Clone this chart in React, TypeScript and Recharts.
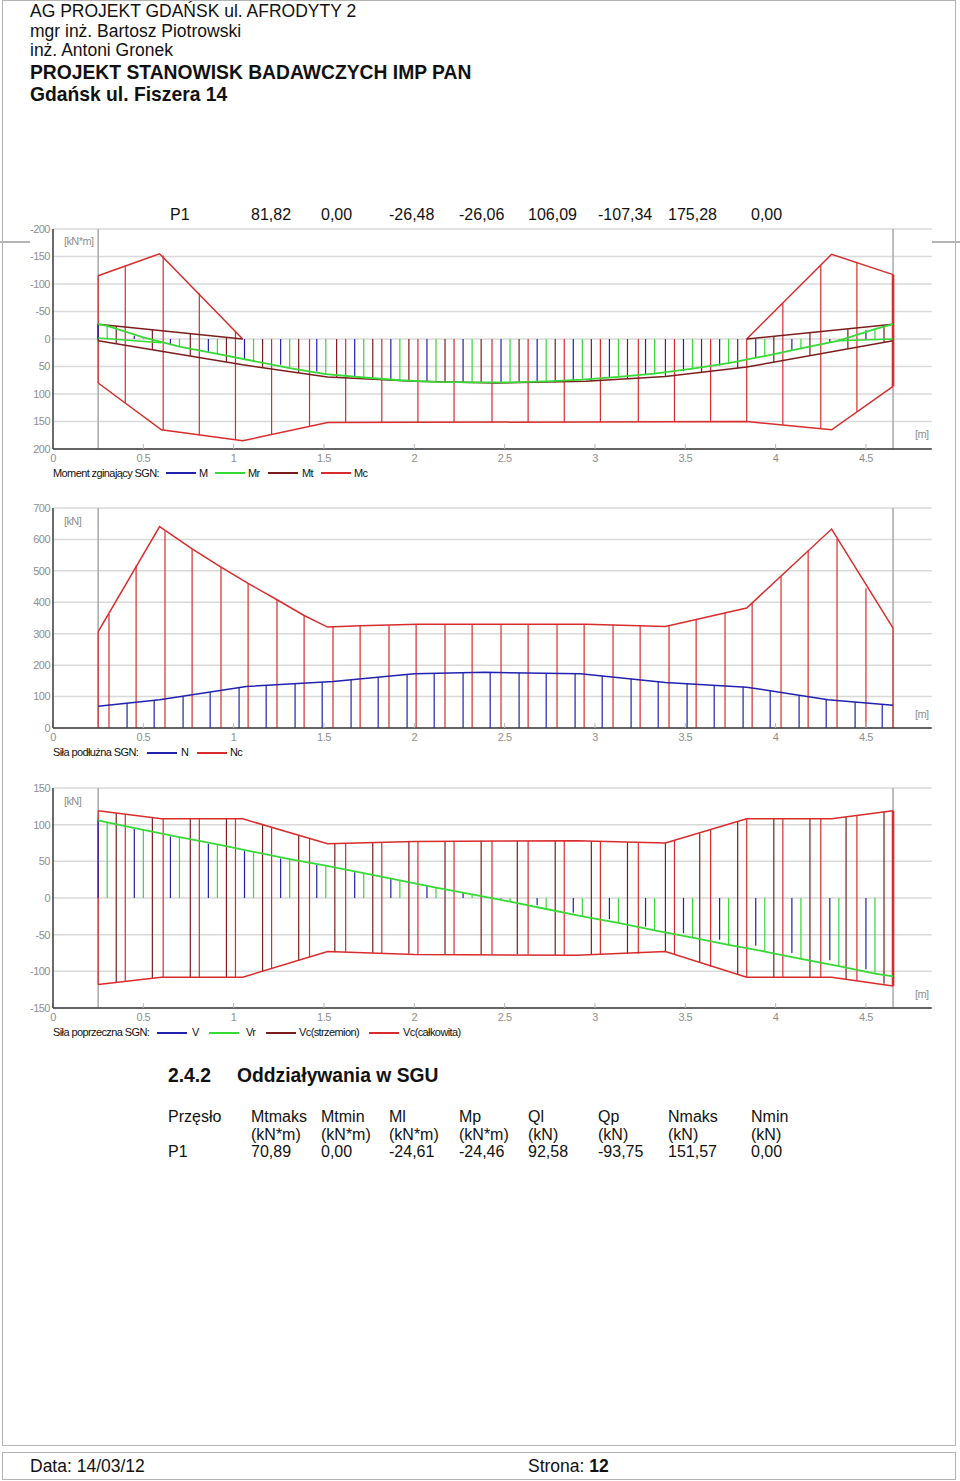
import React from 'react';
import {
  ComposedChart,
  Line,
  XAxis,
  YAxis,
  CartesianGrid,
  ReferenceLine,
} from 'recharts';

type Pt = [number, number];
type Span = [number, number, number];

const BLUE = '#2121b0';
const GREEN = '#36d936';
const BROWN = '#7c1d1d';
const RED = '#d82c2c';
const GRID = '#d9d9d9';
const TICK = '#8e8e8e';
const FONT = '"Liberation Sans", Arial, sans-serif';

const X_MAX = 4.864;
const xTicks = [0, 0.5, 1, 1.5, 2, 2.5, 3, 3.5, 4, 4.5];
const supports = [0.25, 4.65];

// --- header / table text ---
const headerLines = [
  'AG PROJEKT GDAŃSK ul. AFRODYTY 2',
  'mgr inż. Bartosz Piotrowski',
  'inż. Antoni Gronek',
];
const headerBold = ['PROJEKT STANOWISK BADAWCZYCH IMP PAN', 'Gdańsk ul. Fiszera 14'];
const columns = [168, 251, 321, 389, 459, 528, 598, 668, 751];
const sgnRow = ['P1', '81,82', '0,00', '-26,48', '-26,06', '106,09', '-107,34', '175,28', '0,00'];
const sguHead = ['Przęsło', 'Mtmaks', 'Mtmin', 'Ml', 'Mp', 'Ql', 'Qp', 'Nmaks', 'Nmin'];
const sguUnits = ['', '(kN*m)', '(kN*m)', '(kN*m)', '(kN*m)', '(kN)', '(kN)', '(kN)', '(kN)'];
const sguRow = ['P1', '70,89', '0,00', '-24,61', '-24,46', '92,58', '-93,75', '151,57', '0,00'];

// --- moment (kN*m) ---
const momentTicks = [-200, -150, -100, -50, 0, 50, 100, 150, 200];
const mcUpperLeft: Pt[] = [[0.25, -115], [0.59, -155], [1.05, 0]];
const mcUpperRight: Pt[] = [[3.84, 0], [4.31, -154], [4.65, -117]];
const mcLower: Pt[] = [[0.25, 80], [0.6, 165], [1.05, 185], [1.52, 152], [3.84, 150], [4.31, 165], [4.65, 86]];
const mtUpperLeft: Pt[] = [[0.25, -27], [1.05, 0]];
const mtUpperRight: Pt[] = [[3.84, 0], [4.65, -27]];
const mtLower: Pt[] = [[0.25, 3], [1.05, 47], [1.52, 69], [2.0, 77], [2.45, 80], [2.95, 77], [3.39, 68], [3.84, 51], [4.65, 3]];
const mrLowerLeft: Pt[] = [[0.25, -2], [0.6, 7]];
const mrLowerRight: Pt[] = [[4.35, 3], [4.65, 0]];
const mBars: Pt[] = [
  [0.25, -27], [0.45, -6], [0.65, 10], [0.86, 25], [1.06, 37], [1.26, 47], [1.46, 59], [1.67, 68],
  [1.87, 74], [2.07, 77], [2.27, 79], [2.48, 79], [2.68, 78], [2.88, 76], [3.08, 71], [3.28, 65],
  [3.49, 58], [3.69, 48], [3.89, 35], [4.09, 20], [4.3, 7], [4.5, -16],
];
const mrBars: Pt[] = [
  [0.3, -24], [0.5, -3], [0.7, 14], [0.91, 27], [1.11, 40], [1.31, 53], [1.51, 64], [1.72, 70],
  [1.92, 75], [2.12, 78], [2.32, 79], [2.53, 79], [2.73, 77], [2.93, 74], [3.13, 69], [3.33, 63],
  [3.54, 54], [3.74, 44], [3.94, 31], [4.14, 17], [4.35, 3], [4.55, -18],
];
const mrLine: Pt[] = [[0.25, -27], ...mrBars, [4.65, -27]];
const mtSpans: Span[] = [
  [0.25, -27, 3], [0.35, -24, 9], [0.55, -17, 20], [0.76, -10, 31], [0.96, -3, 42], [1.16, 0, 52],
  [1.36, 0, 61], [1.57, 0, 70], [1.77, 0, 73], [1.97, 0, 76], [2.17, 0, 78], [2.37, 0, 79],
  [2.58, 0, 80], [2.78, 0, 79], [2.98, 0, 76], [3.18, 0, 73], [3.39, 0, 68], [3.59, 0, 61],
  [3.79, 0, 53], [3.99, -5, 43], [4.19, -12, 30], [4.4, -19, 18], [4.6, -25, 6],
];
const mcSpans: Span[] = [
  [0.25, -115, 80], [0.4, -133, 117], [0.61, -152, 166], [0.81, -83, 174], [1.01, -14, 183],
  [1.21, 0, 174], [1.42, 0, 159], [1.62, 0, 152], [1.82, 0, 152], [2.02, 0, 152], [2.22, 0, 152],
  [2.43, 0, 152], [2.63, 0, 151], [2.83, 0, 151], [3.03, 0, 151], [3.24, 0, 151], [3.44, 0, 150],
  [3.64, 0, 150], [3.84, 0, 150], [4.04, -65, 156], [4.25, -134, 163], [4.45, -139, 132],
];
const mcEdge: Span[] = [[4.65, -117, 86]];

// --- axial force (kN) ---
const axialTicks = [0, 100, 200, 300, 400, 500, 600, 700];
const ncLine: Pt[] = [
  [0.25, 307], [0.59, 641], [0.77, 570], [0.93, 512], [1.08, 460], [1.24, 408], [1.39, 358],
  [1.52, 321], [1.7, 325], [2.02, 330], [2.95, 330], [3.39, 323], [3.84, 382], [4.31, 633], [4.65, 318],
];
const ncBars: Pt[] = [
  [0.25, 307], [0.31, 363], [0.46, 517], [0.62, 626], [0.77, 570], [0.93, 512], [1.08, 460],
  [1.24, 408], [1.39, 358], [1.55, 322], [1.7, 325], [1.86, 327], [2.01, 330], [2.17, 330],
  [2.32, 330], [2.48, 330], [2.63, 330], [2.79, 330], [2.94, 330], [3.1, 328], [3.25, 326],
  [3.41, 324], [3.56, 345], [3.72, 366], [3.87, 398], [4.03, 483], [4.18, 564], [4.34, 601],
  [4.5, 445], [4.65, 318],
];
const nLine: Pt[] = [
  [0.25, 69], [0.59, 90], [1.07, 132], [1.55, 148], [2.0, 173], [2.39, 177], [2.92, 173],
  [3.39, 145], [3.84, 130], [4.29, 90], [4.65, 72],
];
const nBars: Pt[] = [
  [0.41, 79], [0.56, 88], [0.72, 101], [0.87, 114], [1.03, 128], [1.18, 136], [1.34, 141],
  [1.49, 146], [1.65, 153], [1.8, 162], [1.96, 171], [2.11, 174], [2.27, 176], [2.42, 177],
  [2.58, 176], [2.73, 175], [2.89, 173], [3.04, 166], [3.2, 157], [3.35, 147], [3.51, 141],
  [3.66, 136], [3.82, 131], [3.97, 118], [4.13, 104], [4.28, 91], [4.44, 83], [4.59, 75],
];

// --- shear force (kN) ---
const shearTicks = [-150, -100, -50, 0, 50, 100, 150];
const vcUpper: Pt[] = [[0.25, 119], [0.6, 108], [1.05, 108], [1.52, 74], [2.0, 77], [2.9, 78], [3.39, 75], [3.84, 108], [4.31, 108], [4.65, 119]];
const vcLower: Pt[] = [[0.25, -118], [0.6, -108], [1.05, -108], [1.52, -73], [2.0, -77], [2.9, -78], [3.39, -73], [3.84, -108], [4.31, -108], [4.65, -120]];
const vcSpans: Span[] = [
  [0.25, -118, 119], [0.4, -114, 114], [0.61, -108, 108], [0.81, -108, 108], [1.01, -108, 108],
  [1.21, -97, 97], [1.42, -81, 81], [1.62, -74, 75], [1.82, -75, 76], [2.02, -77, 77],
  [2.22, -77, 77], [2.43, -77, 78], [2.63, -77, 78], [2.83, -78, 78], [3.03, -77, 77],
  [3.24, -76, 76], [3.44, -77, 79], [3.64, -94, 94], [3.84, -108, 108], [4.04, -108, 108],
  [4.25, -108, 108], [4.45, -113, 113],
];
const vcEdge: Span[] = [[4.65, -120, 119]];
const vsSpans: Span[] = [
  [0.35, -115, 116], [0.55, -110, 110], [0.76, -108, 108], [0.96, -108, 108], [1.16, -101, 101],
  [1.36, -85, 85], [1.56, -74, 74], [1.77, -75, 76], [1.97, -76, 77], [2.17, -77, 77],
  [2.37, -77, 78], [2.57, -77, 78], [2.78, -78, 78], [2.98, -77, 77], [3.18, -76, 76],
  [3.39, -73, 75], [3.58, -88, 88], [3.79, -104, 104], [3.99, -108, 108], [4.19, -108, 108],
  [4.39, -111, 111], [4.6, -117, 118],
];
const vBars: Pt[] = [
  [0.25, 107], [0.45, 94], [0.65, 84], [0.86, 74], [1.06, 64], [1.26, 54], [1.46, 45], [1.67, 35],
  [1.87, 26], [2.07, 16], [2.27, 7], [2.48, -1], [2.68, -10], [2.88, -20], [3.08, -29], [3.28, -39],
  [3.49, -48], [3.69, -57], [3.89, -65], [4.09, -75], [4.3, -85], [4.5, -97],
];
const vrBars: Pt[] = [
  [0.3, 103], [0.5, 93], [0.7, 83], [0.91, 73], [1.11, 63], [1.31, 53], [1.51, 44], [1.72, 34],
  [1.92, 24], [2.12, 14], [2.32, 5], [2.53, -5], [2.73, -15], [2.93, -25], [3.13, -34], [3.33, -44],
  [3.54, -54], [3.74, -64], [3.94, -73], [4.14, -83], [4.35, -93], [4.55, -103],
];
const vrLine: Pt[] = [[0.25, 106], ...vrBars, [4.65, -107]];

interface LineDef { pts: Pt[]; color: string; width?: number }
interface SpanDef { spans: Span[]; color: string; width?: number }

const fromZero = (pts: Pt[]): Span[] => pts.map(([x, v]) => [x, 0, v]);

function Diagram({
  plotTop,
  yTicks,
  reversed,
  spans,
  lines,
}: {
  plotTop: number;
  yTicks: number[];
  reversed?: boolean;
  spans: SpanDef[];
  lines: LineDef[];
}) {
  const tickStyle = { fontSize: 11, fill: TICK, fontFamily: FONT, letterSpacing: -0.5 };
  const axisLine = { stroke: '#3a3a3a', strokeWidth: 1.5 };
  return (
    <div style={{ position: 'absolute', left: 0, top: plotTop - 20 }}>
      <ComposedChart width={960} height={260} margin={{ top: 20, right: 28.3, bottom: 0, left: 0 }}>
        <CartesianGrid vertical={false} stroke={GRID} strokeWidth={1.5} />
        <XAxis
          xAxisId="top"
          orientation="top"
          type="number"
          domain={[0, X_MAX]}
          ticks={xTicks}
          interval={0}
          height={0}
          tick={false}
          tickSize={-5}
          axisLine={axisLine}
          tickLine={{ stroke: '#b8b8b8' }}
          allowDataOverflow
        />
        <XAxis
          type="number"
          dataKey="x"
          domain={[0, X_MAX]}
          ticks={xTicks}
          interval={0}
          height={20}
          tickSize={-5}
          tickMargin={10}
          tick={tickStyle}
          axisLine={axisLine}
          tickLine={{ stroke: '#b8b8b8' }}
          allowDataOverflow
        />
        <YAxis
          type="number"
          domain={[yTicks[0], yTicks[yTicks.length - 1]]}
          ticks={yTicks}
          interval={0}
          reversed={reversed}
          width={53}
          tickSize={0}
          tickMargin={3}
          tick={tickStyle}
          axisLine={axisLine}
          tickLine={false}
          allowDataOverflow
        />
        {supports.map((x) => (
          <ReferenceLine key={`s${x}`} x={x} stroke="#a9a9a9" strokeWidth={1.5} />
        ))}
        {spans.flatMap((s, i) =>
          s.spans.map(([x, lo, hi]) => (
            <ReferenceLine
              key={`v${i}-${x}`}
              segment={[{ x, y: lo }, { x, y: hi }]}
              stroke={s.color}
              strokeWidth={s.width ?? 1.2}
            />
          )),
        )}
        {lines.map((l, i) => (
          <Line
            key={`l${i}`}
            data={l.pts.map(([x, y]) => ({ x, y }))}
            dataKey="y"
            type="linear"
            stroke={l.color}
            strokeWidth={l.width ?? 1.5}
            dot={false}
            activeDot={false}
            isAnimationActive={false}
          />
        ))}
      </ComposedChart>
    </div>
  );
}

function Txt({
  x,
  y,
  size = 16,
  bold,
  color = '#111',
  spacing,
  children,
}: {
  x: number;
  y: number;
  size?: number;
  bold?: boolean;
  color?: string;
  spacing?: number;
  children: React.ReactNode;
}) {
  return (
    <div
      style={{
        position: 'absolute',
        left: x,
        top: y - size * 0.5,
        fontSize: size,
        lineHeight: `${size}px`,
        fontWeight: bold ? 700 : 400,
        color,
        whiteSpace: 'nowrap',
        letterSpacing: spacing,
      }}
    >
      {children}
    </div>
  );
}

function Key({
  y,
  title,
  items,
}: {
  y: number;
  title: string;
  items: { x: number; tx: number; color: string; label: string }[];
}) {
  return (
    <>
      <Txt x={53} y={y} size={11} spacing={-0.6}>{title}</Txt>
      {items.map((it) => (
        <React.Fragment key={it.label}>
          <div style={{ position: 'absolute', left: it.x, top: y - 1, width: 30, height: 2, background: it.color }} />
          <Txt x={it.tx} y={y} size={11} spacing={-0.6}>{it.label}</Txt>
        </React.Fragment>
      ))}
    </>
  );
}

export default function App() {
  return (
    <div
      style={{
        position: 'absolute',
        left: 0,
        top: 0,
        width: 960,
        height: 1481,
        background: '#fff',
        fontFamily: FONT,
        overflow: 'hidden',
      }}
    >
      {/* page frame */}
      <div style={{ position: 'absolute', left: 2, top: 0, width: 954, height: 1446, border: '1.5px solid #b4b4b4', boxSizing: 'border-box' }} />
      <div style={{ position: 'absolute', left: 0, top: 241, width: 30, height: 1.5, background: '#b4b4b4' }} />
      <div style={{ position: 'absolute', left: 932, top: 241, width: 28, height: 1.5, background: '#b4b4b4' }} />
      <div style={{ position: 'absolute', left: 2, top: 1452, width: 954, height: 28, border: '1.5px solid #b4b4b4', boxSizing: 'border-box' }} />

      {headerLines.map((t, i) => (
        <Txt key={t} x={30} y={12 + i * 19.5} size={17.5}>{t}</Txt>
      ))}
      {headerBold.map((t, i) => (
        <Txt key={t} x={30} y={73 + i * 22} size={19.3} bold>{t}</Txt>
      ))}

      {sgnRow.map((t, i) => (
        <Txt key={`r${i}`} x={columns[i] + (i === 0 ? 2 : 0)} y={214.5} size={16}>{t}</Txt>
      ))}

      {/* moment */}
      <Diagram
        plotTop={228.5}
        yTicks={momentTicks}
        reversed
        spans={[
          { spans: mcSpans, color: RED },
          { spans: mcEdge, color: RED, width: 2.6 },
          { spans: mtSpans, color: BROWN },
          { spans: fromZero(mrBars), color: GREEN },
          { spans: fromZero(mBars), color: BLUE },
        ]}
        lines={[
          { pts: mcUpperLeft, color: RED },
          { pts: mcUpperRight, color: RED },
          { pts: mcLower, color: RED },
          { pts: mtUpperLeft, color: BROWN },
          { pts: mtUpperRight, color: BROWN },
          { pts: mtLower, color: BROWN },
          { pts: mrLowerLeft, color: GREEN },
          { pts: mrLowerRight, color: GREEN },
          { pts: mrLine, color: GREEN, width: 1.8 },
        ]}
      />
      <Txt x={64} y={241.5} size={11} color={TICK} spacing={-0.6}>[kN*m]</Txt>
      <Txt x={915} y={434} size={11} color={TICK} spacing={-0.6}>[m]</Txt>
      <Key
        y={473}
        title="Moment zginający SGN:"
        items={[
          { x: 166, tx: 199, color: BLUE, label: 'M' },
          { x: 215, tx: 248, color: GREEN, label: 'Mr' },
          { x: 268, tx: 302, color: BROWN, label: 'Mt' },
          { x: 321, tx: 354, color: RED, label: 'Mc' },
        ]}
      />

      {/* axial force */}
      <Diagram
        plotTop={508.3}
        yTicks={axialTicks}
        spans={[
          { spans: fromZero(ncBars), color: RED },
          { spans: fromZero(nBars), color: BLUE },
        ]}
        lines={[
          { pts: ncLine, color: RED },
          { pts: nLine, color: BLUE },
        ]}
      />
      <Txt x={64} y={521.5} size={11} color={TICK} spacing={-0.6}>[kN]</Txt>
      <Txt x={915} y={714} size={11} color={TICK} spacing={-0.6}>[m]</Txt>
      <Key
        y={752.5}
        title="Siła podłużna SGN:"
        items={[
          { x: 147, tx: 181, color: BLUE, label: 'N' },
          { x: 197, tx: 230, color: RED, label: 'Nc' },
        ]}
      />

      {/* shear force */}
      <Diagram
        plotTop={788.3}
        yTicks={shearTicks}
        spans={[
          { spans: vcSpans, color: RED },
          { spans: vcEdge, color: RED, width: 2.6 },
          { spans: vsSpans, color: BROWN },
          { spans: fromZero(vrBars), color: GREEN },
          { spans: fromZero(vBars), color: BLUE },
        ]}
        lines={[
          { pts: vcUpper, color: RED },
          { pts: vcLower, color: RED },
          { pts: vrLine, color: GREEN, width: 1.8 },
        ]}
      />
      <Txt x={64} y={801.5} size={11} color={TICK} spacing={-0.6}>[kN]</Txt>
      <Txt x={915} y={994} size={11} color={TICK} spacing={-0.6}>[m]</Txt>
      <Key
        y={1032.5}
        title="Siła poprzeczna SGN:"
        items={[
          { x: 157, tx: 192, color: BLUE, label: 'V' },
          { x: 209, tx: 246, color: GREEN, label: 'Vr' },
          { x: 266, tx: 299, color: BROWN, label: 'Vc(strzemion)' },
          { x: 369, tx: 403, color: RED, label: 'Vc(całkowita)' },
        ]}
      />

      {/* SGU table */}
      <Txt x={168} y={1075.5} size={19.3} bold>2.4.2</Txt>
      <Txt x={237} y={1075.5} size={19.3} bold>Oddziaływania w SGU</Txt>
      {sguHead.map((t, i) => (
        <Txt key={`h${i}`} x={columns[i]} y={1116.5} size={16}>{t}</Txt>
      ))}
      {sguUnits.map((t, i) => (
        <Txt key={`u${i}`} x={columns[i]} y={1134.5} size={16}>{t}</Txt>
      ))}
      {sguRow.map((t, i) => (
        <Txt key={`v${i}`} x={columns[i]} y={1151.5} size={16}>{t}</Txt>
      ))}

      {/* footer */}
      <Txt x={30} y={1466.5} size={17.5}>Data: 14/03/12</Txt>
      <Txt x={528} y={1466.5} size={17.5}>
        Strona: <b>12</b>
      </Txt>
    </div>
  );
}
